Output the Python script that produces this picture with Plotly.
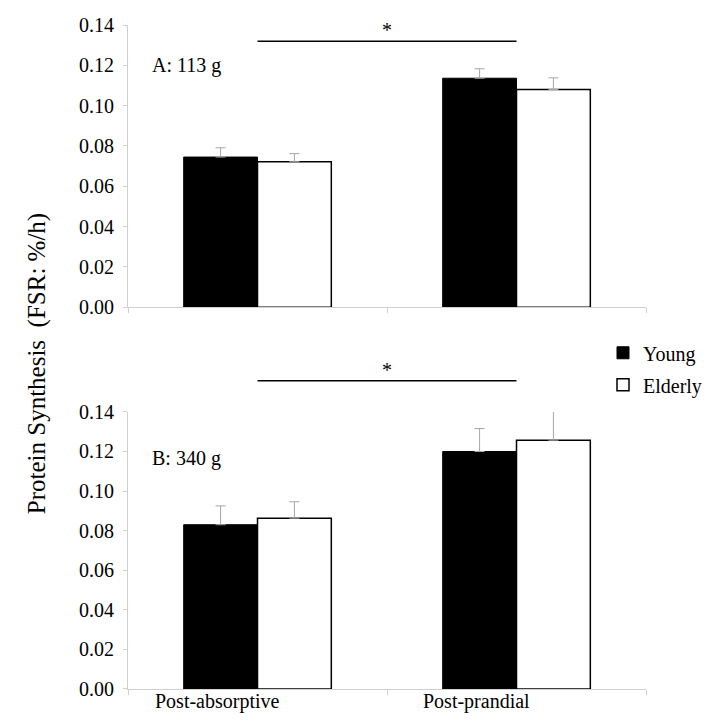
import plotly.graph_objects as go

# ---- data ----
categories = ["Post-absorptive", "Post-prandial"]
series_names = ["Young", "Elderly"]

young_a = [0.0745, 0.1136]
young_a_err = [0.0046, 0.0047]
elderly_a = [0.0722, 0.1080]
elderly_a_err = [0.0040, 0.0058]

young_b = [0.0830, 0.1200]
young_b_err = [0.0095, 0.0116]
elderly_b = [0.0863, 0.1257]
elderly_b_err = [0.0083, 0.0146]

panel_labels = ["A: 113 g", "B: 340 g"]
sig_level_a = 0.132
sig_level_b = 0.1557
tick_vals = [0.00, 0.02, 0.04, 0.06, 0.08, 0.10, 0.12, 0.14]
y_title = "Protein Synthesis  (FSR: %/h)"

# ---- layout geometry (window pixels; page body has an 8px margin) ----
WIN_W, WIN_H = 713, 723
OFF = 8
W, H = WIN_W - OFF, WIN_H - OFF
L, R, T, B = 128, 646, 24.5, 689
PW, PH = R - L, B - T


def px_x(px):
    return (px - L) / PW


def px_y(py):
    return (B - py) / PH


ya_dom = [px_y(307), px_y(24.5)]
yb_dom = [px_y(689), px_y(411.7)]
y_range = [0, 0.14]

FONT = "Liberation Serif"
AXIS_GRAY = "#d0d0d0"
ERR_GRAY = "#a6a6a6"


def to_paper(v, dom):
    return dom[0] + (v - y_range[0]) / (y_range[1] - y_range[0]) * (dom[1] - dom[0])


def bar(y, err, name, fill, line_w, xa, ya, show):
    return go.Bar(
        x=categories, y=y, name=name, xaxis=xa, yaxis=ya, legendgroup=name,
        marker=dict(color=fill, line=dict(color="#000000", width=line_w)),
        error_y=dict(type="data", array=err, arrayminus=[0] * len(err), symmetric=False,
                     color=ERR_GRAY, thickness=1, width=5),
        showlegend=show,
    )


fig = go.Figure()
fig.add_trace(bar(young_a, young_a_err, series_names[0], "#000000", 1, "x", "y", False))
fig.add_trace(bar(elderly_a, elderly_a_err, series_names[1], "#ffffff", 1.5, "x", "y", False))
fig.add_trace(bar(young_b, young_b_err, series_names[0], "#000000", 1, "x2", "y2", True))
fig.add_trace(bar(elderly_b, elderly_b_err, series_names[1], "#ffffff", 1.5, "x2", "y2", True))

xaxis_common = dict(
    domain=[0, 1], showline=True, linecolor=AXIS_GRAY, linewidth=1,
    ticks="outside", tickson="boundaries", ticklen=5, tickcolor=AXIS_GRAY,
    showticklabels=False, showgrid=False, zeroline=False,
    range=[-0.5, 1.5], automargin=False,
)
yaxis_common = dict(
    range=y_range, tickvals=tick_vals, tickformat=".2f",
    showline=True, linecolor=AXIS_GRAY, linewidth=1,
    ticks="outside", ticklen=4, tickcolor=AXIS_GRAY, ticklabelstandoff=5,
    showgrid=False, zeroline=False, automargin=False,
    tickfont=dict(family=FONT, size=20, color="#000000"),
)

fig.update_layout(
    width=W, height=H,
    margin=dict(l=L - OFF, r=WIN_W - R, t=T - OFF, b=WIN_H - B, autoexpand=False),
    paper_bgcolor="white", plot_bgcolor="white",
    barmode="group", bargap=0.43, bargroupgap=0,
    font=dict(family=FONT, size=20, color="#000000"),
    xaxis=dict(anchor="y", **xaxis_common),
    yaxis=dict(anchor="x", domain=ya_dom, **yaxis_common),
    xaxis2=dict(anchor="y2", **xaxis_common),
    yaxis2=dict(anchor="x2", domain=yb_dom, **yaxis_common),
    legend=dict(
        x=px_x(603), y=px_y(333), xanchor="left", yanchor="top",
        font=dict(family=FONT, size=20, color="#000000"),
        bgcolor="rgba(0,0,0,0)", tracegroupgap=3,
    ),
)

# significance lines and asterisks
for lvl, dom, xr in [(sig_level_a, ya_dom, "x"), (sig_level_b, yb_dom, "x2")]:
    yp = to_paper(lvl, dom)
    fig.add_shape(type="line", xref=xr, yref="paper", x0=0, x1=1, y0=yp, y1=yp,
                  line=dict(color="#000000", width=1.5))
    fig.add_annotation(xref=xr, yref="paper", x=0.5, y=yp, yanchor="bottom",
                       text="*", showarrow=False, yshift=-2,
                       font=dict(family=FONT, size=20, color="#000000"))

# panel labels
fig.add_annotation(xref="paper", yref="paper", x=px_x(150), y=px_y(65),
                   xanchor="left", yanchor="middle", text=panel_labels[0], showarrow=False,
                   font=dict(family=FONT, size=20, color="#000000"))
fig.add_annotation(xref="paper", yref="paper", x=px_x(150), y=px_y(458),
                   xanchor="left", yanchor="middle", text=panel_labels[1], showarrow=False,
                   font=dict(family=FONT, size=20, color="#000000"))

# category labels under the bottom panel
for c in categories:
    fig.add_annotation(xref="x2", yref="paper", x=c, y=yb_dom[0], xanchor="center",
                       yanchor="top", xshift=-40, yshift=1, text=c, showarrow=False,
                       font=dict(family=FONT, size=20, color="#000000"))

# shared y title
fig.add_annotation(xref="paper", yref="paper", x=px_x(37), y=px_y(364),
                   xanchor="center", yanchor="middle", textangle=-90,
                   text=y_title, showarrow=False,
                   font=dict(family=FONT, size=25, color="#000000"))

fig.write_html("out.html")
